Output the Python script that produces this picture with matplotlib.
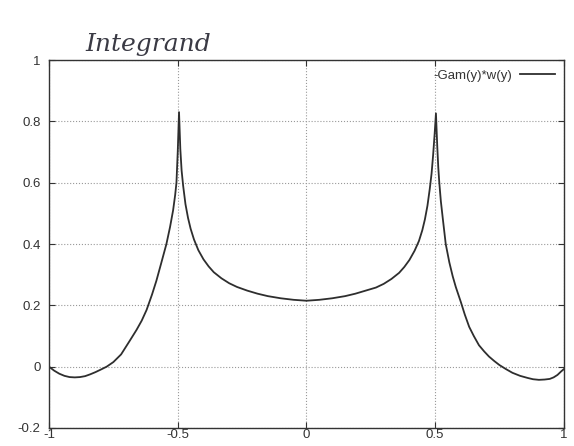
import numpy as np
import matplotlib.pyplot as plt

# values
y_pos = [-1.0, -0.98, -0.96, -0.94, -0.92, -0.90, -0.88, -0.86, -0.84, -0.82,
         -0.80, -0.776, -0.75, -0.72, -0.686, -0.66, -0.64, -0.621, -0.60, -0.583,
         -0.565, -0.544, -0.53, -0.518, -0.51, -0.505, -0.50, -0.495,
         -0.49, -0.485, -0.479, -0.47, -0.46, -0.45, -0.437, -0.42, -0.40, -0.38,
         -0.36, -0.33, -0.30, -0.27, -0.23, -0.19, -0.15, -0.10, -0.05, 0.0,
         0.05, 0.10, 0.15, 0.19, 0.23, 0.27, 0.30, 0.33, 0.36, 0.38,
         0.40, 0.42, 0.437, 0.45, 0.46, 0.47, 0.479, 0.486, 0.492, 0.498, 0.503,
         0.508, 0.512, 0.516, 0.522, 0.53, 0.541, 0.555, 0.568, 0.58, 0.60,
         0.615, 0.632, 0.65, 0.67, 0.69, 0.709, 0.73, 0.75, 0.775, 0.80,
         0.83, 0.86, 0.88, 0.903, 0.925, 0.945, 0.96, 0.975, 0.99, 1.0]
integrand = [0.0, -0.013, -0.023, -0.03, -0.034, -0.035, -0.034, -0.031, -0.025, -0.018,
             -0.01, 0.0, 0.015, 0.04, 0.085, 0.12, 0.15, 0.185, 0.235, 0.28,
             0.335, 0.40, 0.455, 0.51, 0.56, 0.60, 0.70, 0.83,
             0.71, 0.64, 0.59, 0.53, 0.485, 0.45, 0.415, 0.38, 0.35, 0.327,
             0.308, 0.288, 0.272, 0.26, 0.248, 0.238, 0.23, 0.223, 0.218, 0.215,
             0.218, 0.223, 0.23, 0.238, 0.248, 0.258, 0.27, 0.286, 0.306, 0.325,
             0.348, 0.378, 0.41, 0.445, 0.48, 0.525, 0.58, 0.63, 0.69, 0.76, 0.826,
             0.72, 0.65, 0.60, 0.54, 0.48, 0.40, 0.34, 0.295, 0.26, 0.21,
             0.17, 0.13, 0.10, 0.07, 0.05, 0.033, 0.018, 0.005, -0.008, -0.02,
             -0.03, -0.037, -0.041, -0.043, -0.042, -0.04, -0.035, -0.027, -0.015, -0.008]

xticks = [-1, -0.5, 0, 0.5, 1]
xtick_labels = ["-1", "-0.5", "0", "0.5", "1"]
yticks = [-0.2, 0, 0.2, 0.4, 0.6, 0.8, 1]
ytick_labels = ["-0.2", "0", "0.2", "0.4", "0.6", "0.8", "1"]

plt.rcParams['font.family'] = ['Liberation Sans', 'DejaVu Sans']

fig = plt.figure(figsize=(5.74, 4.46), dpi=100)
ax = fig.add_axes([0.0854, 0.0404, 0.897, 0.825])

ax.plot(y_pos, integrand, color='#2e2e2e', linewidth=1.3, label='-Gam(y)*w(y)',
        solid_joinstyle='round')

ax.set_xlim(-1, 1)
ax.set_ylim(-0.2, 1)
ax.set_xticks(xticks)
ax.set_xticklabels(xtick_labels)
ax.set_yticks(yticks)
ax.set_yticklabels(ytick_labels)
ax.tick_params(direction='in', top=True, right=True, length=4, width=0.8,
               labelsize=9.5, colors='#333333')
ax.tick_params(axis='y', pad=6)
ax.tick_params(axis='x', pad=1)
for s in ax.spines.values():
    s.set_color('#333333')
    s.set_linewidth(1.0)
ax.grid(True, linestyle=':', color='#999999', linewidth=0.8)

leg = ax.legend(loc='upper right', frameon=False, handlelength=2.6,
                markerfirst=False, fontsize=9.5, borderaxespad=0.3,
                handletextpad=0.6)
for t in leg.get_texts():
    t.set_color('#333333')

# handwritten note above the frame
fig.text(0.148, 0.885, "Integrand", fontsize=18, style='italic',
         family='DejaVu Serif', color='#3a3a44', va='baseline')

fig.savefig('out.png', dpi=100, facecolor='white')
